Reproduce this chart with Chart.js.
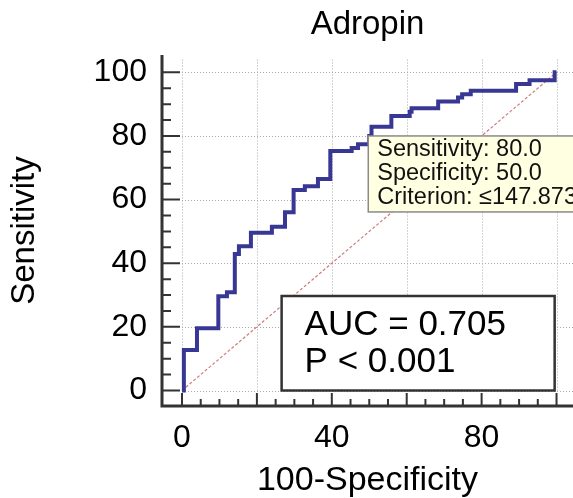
<!DOCTYPE html>
<html><head><meta charset="utf-8">
<script src="https://cdn.jsdelivr.net/npm/chart.js@4.4.0/dist/chart.umd.min.js"></script>
<style>html,body{margin:0;padding:0;background:#fff;overflow:hidden}#wrap{width:573px;height:498px;position:relative}</style>
</head><body><div id="wrap"><canvas id="c"></canvas></div>
<script>
// ---- data ----
const chartTitle = 'Adropin';
const xTitle = '100-Specificity';
const yTitle = 'Sensitivity';
const xTickLabels = [0, 40, 80];
const yTickLabels = [0, 20, 40, 60, 80, 100];
const gridValues = [0, 20, 40, 60, 80, 100];
// ROC staircase: at each 100-Specificity value the sensitivity rises to the listed value
const stepFpr = [0.5, 4, 9.7, 12, 14.1, 15.2, 18.4, 24, 27.5, 29.8, 32.8, 36.3, 39.6, 45.3, 47, 50, 50.6, 55.9, 60.8, 61.3, 68.4, 73.7, 74.8, 77.1, 89.2, 92.8, 99.5];
const stepTpr = [12.7, 19.6, 29.6, 30.9, 42.9, 45.3, 49.6, 51.5, 56, 63, 64.2, 66.5, 75.3, 76.2, 77.4, 80, 82.9, 86.3, 87.6, 88.7, 90.8, 92.1, 93.1, 94.2, 96.3, 97.5, 100];
const refX = [0, 100];
const refY = [0, 100];
const criterionPoint = [50, 80];
const criterionLines = ['Sensitivity: 80.0', 'Specificity: 50.0', 'Criterion: \u2264147.873'];
const aucLines = ['AUC = 0.705', 'P < 0.001'];

// ---- build ----
const rocPoints = [{x: 0, y: 0}];
let prevY = 0;
stepFpr.forEach((f, i) => {
  rocPoints.push({x: f, y: prevY});
  rocPoints.push({x: f, y: stepTpr[i]});
  prevY = stepTpr[i];
});
rocPoints.push({x: 100, y: 100});
const refPoints = refX.map((v, i) => ({x: v, y: refY[i]}));

const FONT = '"Liberation Sans", Arial, Helvetica, sans-serif';
Chart.defaults.font.family = FONT;
Chart.defaults.color = '#000';

const decor = {
  id: 'decor',
  beforeDatasetsDraw(chart) {
    const {ctx, chartArea: a, scales: {x, y}} = chart;
    ctx.save();
    ctx.strokeStyle = '#a9a9a9';
    ctx.lineWidth = 1;
    ctx.setLineDash([1, 2]);
    gridValues.forEach(v => {
      const px = Math.round(x.getPixelForValue(v)) + 0.5;
      ctx.beginPath(); ctx.moveTo(px, y.getPixelForValue(0)); ctx.lineTo(px, a.top + 3); ctx.stroke();
    });
    gridValues.forEach(v => {
      const py = Math.round(y.getPixelForValue(v)) + 0.5;
      ctx.beginPath(); ctx.moveTo(x.getPixelForValue(0), py); ctx.lineTo(a.right, py); ctx.stroke();
    });
    ctx.restore();
  },
  afterDatasetsDraw(chart) {
    const {ctx, chartArea: a, scales: {x, y}} = chart;
    ctx.save();
    // AUC box
    const bx0 = x.getPixelForValue(26.6), bx1 = x.getPixelForValue(99.5);
    const by0 = y.getPixelForValue(29.7), by1 = y.getPixelForValue(0);
    ctx.fillStyle = '#fff';
    ctx.fillRect(bx0, by0, bx1 - bx0, by1 - by0);
    ctx.strokeStyle = '#333'; ctx.lineWidth = 2.5;
    ctx.strokeRect(bx0, by0, bx1 - bx0, by1 - by0);
    ctx.fillStyle = '#000';
    ctx.font = '35px ' + FONT;
    ctx.textBaseline = 'middle'; ctx.textAlign = 'left';
    aucLines.forEach((t, i) => ctx.fillText(t, bx0 + 23, by0 + 29 + i * 37));
    // criterion box
    const cx = x.getPixelForValue(criterionPoint[0]) - 1, cy = y.getPixelForValue(criterionPoint[1]);
    ctx.fillStyle = '#ffffe1';
    ctx.fillRect(cx, cy, 240, 76);
    ctx.strokeStyle = '#8a8a8a'; ctx.lineWidth = 1.5;
    ctx.strokeRect(cx, cy, 240, 76);
    ctx.fillStyle = '#111';
    ctx.font = '23.5px ' + FONT;
    criterionLines.forEach((t, i) => ctx.fillText(t, cx + 9, cy + 13.5 + i * 23.8));
    // axes lines
    ctx.strokeStyle = '#333'; ctx.lineWidth = 3;
    ctx.beginPath();
    ctx.moveTo(a.left, a.top); ctx.lineTo(a.left, a.bottom + 1.5);
    ctx.moveTo(a.left - 1.5, a.bottom); ctx.lineTo(a.right, a.bottom);
    ctx.stroke();
    // ticks
    ctx.lineWidth = 2;
    ctx.beginPath();
    for (let v = 0; v <= 100; v += 5) {
      const major = v % 20 === 0;
      const py = y.getPixelForValue(v);
      ctx.moveTo(a.left, py); ctx.lineTo(a.left + (major ? 18 : 9), py);
      const px = x.getPixelForValue(v);
      ctx.moveTo(px, a.bottom); ctx.lineTo(px, a.bottom - (major ? 13 : 7));
    }
    ctx.stroke();
    ctx.restore();
  }
};

new Chart(document.getElementById('c'), {
  type: 'line',
  data: {
    datasets: [
      {data: rocPoints, borderColor: '#383894', borderWidth: 4, pointRadius: 0, fill: false, tension: 0, borderJoinStyle: 'miter', borderCapStyle: 'butt'},
      {data: refPoints, borderColor: 'rgba(200,110,110,0.9)', borderWidth: 1.2, borderDash: [3, 2], pointRadius: 0, fill: false}
    ]
  },
  options: {
    responsive: true,
    maintainAspectRatio: false,
    animation: false,
    devicePixelRatio: 1,
    layout: {padding: 0},
    plugins: {
      legend: {display: false},
      tooltip: {enabled: false},
      title: {display: true, text: chartTitle, fullSize: false, color: '#000', font: {size: 33, weight: 'normal', lineHeight: 1.2}, padding: {top: 5.2, bottom: 10.2}}
    },
    scales: {
      x: {
        type: 'linear', min: -5.34, max: 104.4, bounds: 'data',
        grid: {display: false, drawTicks: false}, border: {display: false},
        ticks: {font: {size: 32}, color: '#000', padding: 13, autoSkip: false, maxRotation: 0},
        afterBuildTicks: s => { s.ticks = xTickLabels.map(v => ({value: v})); },
        afterFit: s => { s.height = 92; },
        title: {display: true, text: xTitle, color: '#000', font: {size: 34, lineHeight: 1}, padding: {top: 0, bottom: 0}}
      },
      y: {
        type: 'linear', min: -4.87, max: 105.44, bounds: 'data',
        grid: {display: false, drawTicks: false}, border: {display: false},
        ticks: {font: {size: 32}, color: '#000', padding: 15, autoSkip: false},
        afterBuildTicks: s => { s.ticks = yTickLabels.map(v => ({value: v})); },
        afterFit: s => { s.width = 162; },
        title: {display: true, text: yTitle, color: '#000', font: {size: 33, lineHeight: 1}, padding: {top: 8.5, bottom: 0}}
      }
    }
  },
  plugins: [decor]
});
</script>
</body></html>
